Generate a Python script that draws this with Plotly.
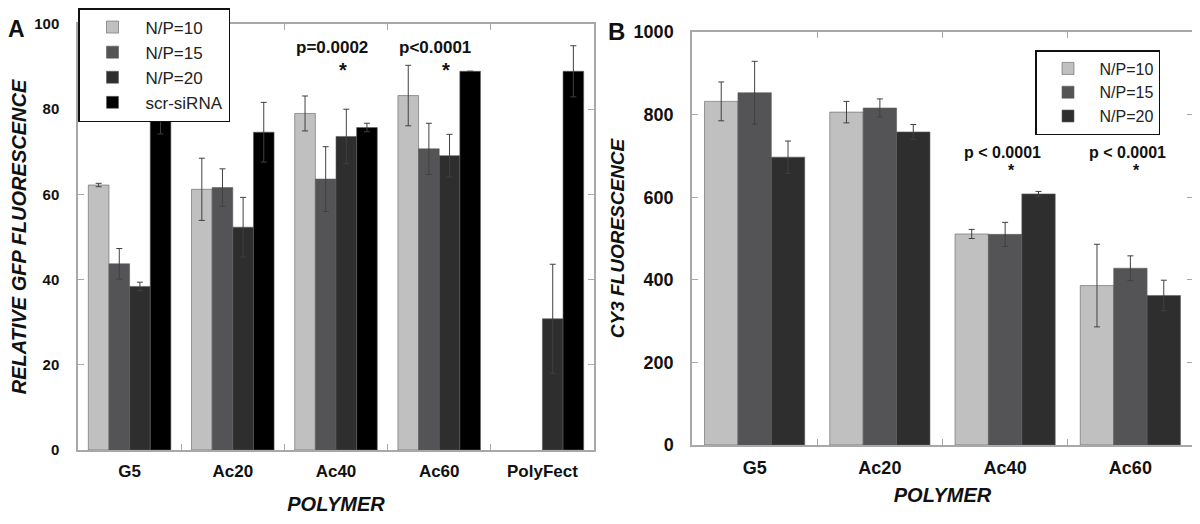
import plotly.graph_objects as go

# ---------------- Panel A data ----------------
cats_a = ["G5", "Ac20", "Ac40", "Ac60", "PolyFect"]
np10_a = [62.2, 61.2, 79.0, 83.2, None]
np10_a_err = [0.4, 7.3, 4.1, 7.1, None]
np15_a = [43.7, 61.6, 63.6, 70.7, None]
np15_a_err = [3.6, 4.4, 7.6, 6.0, None]
np20_a = [38.4, 52.3, 73.6, 69.1, 30.8]
np20_a_err = [1.0, 7.0, 6.4, 5.0, 12.8]
scr_a = [77.2, 74.6, 75.7, 88.9, 88.9]
scr_a_err = [3.0, 7.0, 1.0, 0.0, 6.0]

# ---------------- Panel B data ----------------
cats_b = ["G5", "Ac20", "Ac40", "Ac60"]
np10_b = [832, 806, 511, 386]
np10_b_err = [47, 26, 11, 100]
np15_b = [853, 816, 510, 428]
np15_b_err = [76, 22, 29, 30]
np20_b = [697, 758, 608, 362]
np20_b_err = [39, 18, 6, 37]

names_a = ["N/P=10", "N/P=15", "N/P=20", "scr-siRNA"]
names_b = ["N/P=10", "N/P=15", "N/P=20"]
colors = ["#c0c0c0", "#545457", "#2e2e2e", "#000000"]

# the page body has an 8px margin, so the figure is drawn 8px in from the window edge
OFF = 8
W, H = 1200 - OFF, 524 - OFF
FONT = "Liberation Sans, Arial, sans-serif"


def px_x(x):
    return (x - OFF) / W


def px_y(y):
    return 1 - (y - OFF) / H


fig = go.Figure()

series_a = [(np10_a, np10_a_err), (np15_a, np15_a_err), (np20_a, np20_a_err), (scr_a, scr_a_err)]
for name, (vals, errs), col in zip(names_a, series_a, colors):
    fig.add_trace(go.Bar(
        x=cats_a, y=vals, name=name, marker=dict(color=col, line=dict(color="#606060", width=0.6)),
        error_y=dict(type="data", array=errs, visible=True, color="#404040", thickness=1, width=3),
        xaxis="x", yaxis="y", legend="legend",
    ))

series_b = [(np10_b, np10_b_err), (np15_b, np15_b_err), (np20_b, np20_b_err)]
for name, (vals, errs), col in zip(names_b, series_b, colors):
    fig.add_trace(go.Bar(
        x=cats_b, y=vals, name=name, marker=dict(color=col, line=dict(color="#606060", width=0.6)),
        error_y=dict(type="data", array=errs, visible=True, color="#404040", thickness=1, width=3),
        xaxis="x2", yaxis="y2", legend="legend2",
    ))

axis_common = dict(
    showline=True, linecolor="#a8a8a8", linewidth=1.5, mirror="ticks",
    ticks="inside", ticklen=6, tickcolor="#a8a8a8", tickwidth=1,
    showgrid=False, zeroline=False, automargin=False,
)

fig.update_layout(
    width=W, height=H,
    margin=dict(l=0, r=0, t=0, b=0, autoexpand=False),
    plot_bgcolor="white", paper_bgcolor="white",
    barmode="group", bargap=0.2, bargroupgap=0,
    font=dict(family=FONT, color="#111111"),
    xaxis=dict(
        domain=[px_x(78), px_x(594)], anchor="y", tickson="boundaries",
        tickfont=dict(size=17, family=FONT, weight="bold", color="#111"),
        ticklabelstandoff=5,
        title=dict(text="<b><i>POLYMER</i></b>", font=dict(size=20, family=FONT), standoff=17),
        **axis_common,
    ),
    yaxis=dict(
        domain=[px_y(450), px_y(24)], anchor="x", range=[0, 100], tickvals=[0, 20, 40, 60, 80, 100],
        tickfont=dict(size=15, family=FONT, weight="bold", color="#111"),
        ticklabelstandoff=14,
        title=dict(text="<b><i>RELATIVE GFP FLUORESCENCE</i></b>", font=dict(size=20, family=FONT), standoff=3),
        **axis_common,
    ),
    xaxis2=dict(
        domain=[px_x(692), px_x(1193)], anchor="y2", tickson="boundaries",
        tickfont=dict(size=18, family=FONT, weight="bold", color="#111"),
        ticklabelstandoff=6,
        title=dict(text="<b><i>POLYMER</i></b>", font=dict(size=20, family=FONT), standoff=11),
        **axis_common,
    ),
    yaxis2=dict(
        domain=[px_y(445), px_y(32)], anchor="x2", range=[0, 1000], tickvals=[0, 200, 400, 600, 800, 1000],
        tickfont=dict(size=18, family=FONT, weight="bold", color="#111"),
        ticklabelstandoff=13,
        title=dict(text="<b><i>CY3 FLUORESCENCE</i></b>", font=dict(size=19, family=FONT), standoff=4),
        **axis_common,
    ),
    legend=dict(
        x=px_x(78), y=px_y(8), xanchor="left", yanchor="top",
        bgcolor="white", bordercolor="#111", borderwidth=1.5,
        font=dict(size=17, family=FONT, color="#222"), itemwidth=56, tracegroupgap=0,
    ),
    legend2=dict(
        x=px_x(1035), y=px_y(50), xanchor="left", yanchor="top",
        bgcolor="white", bordercolor="#111", borderwidth=1.5,
        font=dict(size=16, family=FONT, color="#222"), itemwidth=53, tracegroupgap=0,
    ),
    showlegend=True,
)

ann = []
centered = dict(showarrow=False, xanchor="center", yanchor="middle")
# panel letters
ann.append(dict(text="<b>A</b>", x=px_x(16), y=px_y(29), xref="paper", yref="paper",
                font=dict(size=23, family=FONT, color="#111"), **centered))
ann.append(dict(text="<b>B</b>", x=px_x(616), y=px_y(32), xref="paper", yref="paper",
                font=dict(size=24, family=FONT, color="#111"), **centered))
# significance labels, panel A
for cat, label in [("Ac40", "p=0.0002"), ("Ac60", "p<0.0001")]:
    ann.append(dict(text=f"<b>{label}</b>", x=cat, y=px_y(47), xref="x", yref="paper",
                    xshift=-4, font=dict(size=17, family=FONT, color="#111"), **centered))
    ann.append(dict(text="<b>*</b>", x=cat, y=px_y(70), xref="x", yref="paper",
                    xshift=7, font=dict(size=20, family=FONT, color="#111"), **centered))
# significance labels, panel B
for cat in ["Ac40", "Ac60"]:
    ann.append(dict(text="<b>p < 0.0001</b>", x=cat, y=px_y(152), xref="x2", yref="paper",
                    xshift=-3, font=dict(size=16, family=FONT, color="#111"), **centered))
    ann.append(dict(text="<b>*</b>", x=cat, y=px_y(170), xref="x2", yref="paper",
                    xshift=6, font=dict(size=16, family=FONT, color="#111"), **centered))
fig.update_layout(annotations=ann)

fig.write_html("out.html")
